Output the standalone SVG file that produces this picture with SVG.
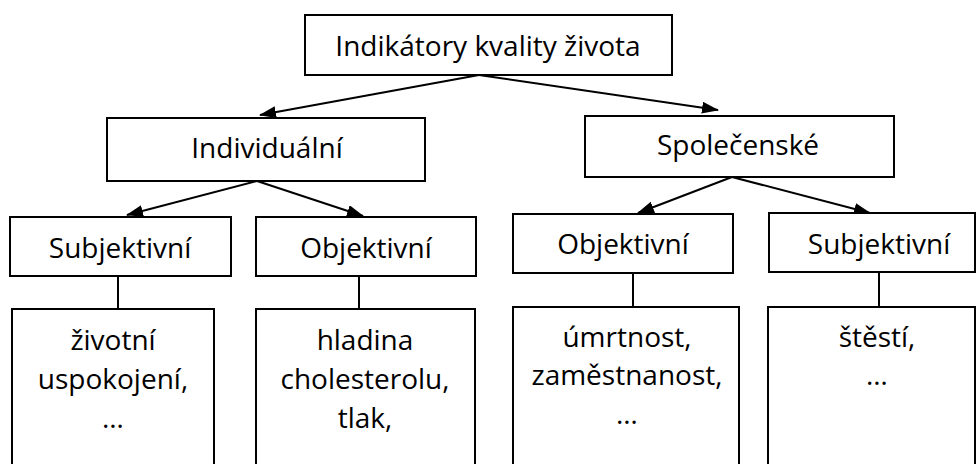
<svg xmlns="http://www.w3.org/2000/svg" width="977" height="464" viewBox="0 0 977 464">
  <style>
    .box { fill: #fff; stroke: #000; stroke-width: 2; }
    .lbl { font-family: "Open Sans", "Noto Sans", "Liberation Sans", sans-serif; font-size: 28px; fill: #000; text-anchor: middle; }
    .edge { stroke: #000; stroke-width: 2; fill: none; }
    .arrow { marker-end: url(#head); }
  </style>
  <defs>
    <marker id="head" viewBox="0 0 17 12" refX="16" refY="6" markerWidth="17" markerHeight="12" markerUnits="userSpaceOnUse" orient="auto">
      <path d="M0,0 L17,6 L0,12 Z" fill="#000"/>
    </marker>
  </defs>
  <rect width="977" height="464" fill="#fff"/>

  <g id="connectors">
    <line class="edge arrow" x1="479" y1="75" x2="260" y2="115"/>
    <line class="edge arrow" x1="479" y1="75" x2="718" y2="110"/>
    <line class="edge arrow" x1="257" y1="181" x2="127" y2="215"/>
    <line class="edge arrow" x1="257" y1="181" x2="363" y2="216"/>
    <line class="edge arrow" x1="732" y1="177" x2="638" y2="213"/>
    <line class="edge arrow" x1="732" y1="177" x2="870" y2="213"/>
    <line class="edge" x1="118" y1="276" x2="118" y2="309"/>
    <line class="edge" x1="359" y1="276" x2="359" y2="309"/>
    <line class="edge" x1="633" y1="273" x2="633" y2="307"/>
    <line class="edge" x1="879" y1="272" x2="879" y2="307"/>
  </g>

  <g id="root">
    <rect class="box" x="305" y="15" width="367" height="60"/>
    <text class="lbl" x="488" y="56">Indikátory kvality života</text>
  </g>

  <g id="individualni">
    <rect class="box" x="107" y="118" width="318" height="63"/>
    <text class="lbl" x="267" y="158">Individuální</text>
  </g>

  <g id="spolecenske">
    <rect class="box" x="585" y="116" width="309" height="61"/>
    <text class="lbl" x="738" y="155">Společenské</text>
  </g>

  <g id="ind-subjektivni">
    <rect class="box" x="10" y="217" width="221" height="59"/>
    <text class="lbl" x="120" y="258">Subjektivní</text>
  </g>

  <g id="ind-objektivni">
    <rect class="box" x="256" y="217" width="220" height="59"/>
    <text class="lbl" x="366" y="258">Objektivní</text>
  </g>

  <g id="spol-objektivni">
    <rect class="box" x="513" y="214" width="220" height="59"/>
    <text class="lbl" x="623" y="254">Objektivní</text>
  </g>

  <g id="spol-subjektivni">
    <rect class="box" x="769" y="213" width="206" height="59"/>
    <text class="lbl" x="879" y="254">Subjektivní</text>
  </g>

  <g id="ind-subj-examples">
    <rect class="box" x="12" y="309" width="202" height="170"/>
    <text class="lbl" x="113" y="350">životní</text>
    <text class="lbl" x="113" y="389">uspokojení,</text>
    <text class="lbl" x="113" y="428">…</text>
  </g>

  <g id="ind-obj-examples">
    <rect class="box" x="256" y="309" width="219" height="170"/>
    <text class="lbl" x="365" y="350">hladina</text>
    <text class="lbl" x="365" y="389">cholesterolu,</text>
    <text class="lbl" x="365" y="428">tlak,</text>
  </g>

  <g id="spol-obj-examples">
    <rect class="box" x="513" y="307" width="226" height="170"/>
    <text class="lbl" x="627" y="347">úmrtnost,</text>
    <text class="lbl" x="627" y="385">zaměstnanost,</text>
    <text class="lbl" x="627" y="424">…</text>
  </g>

  <g id="spol-subj-examples">
    <rect class="box" x="768" y="307" width="207" height="170"/>
    <text class="lbl" x="877" y="347">štěstí,</text>
    <text class="lbl" x="877" y="385">…</text>
  </g>
</svg>
